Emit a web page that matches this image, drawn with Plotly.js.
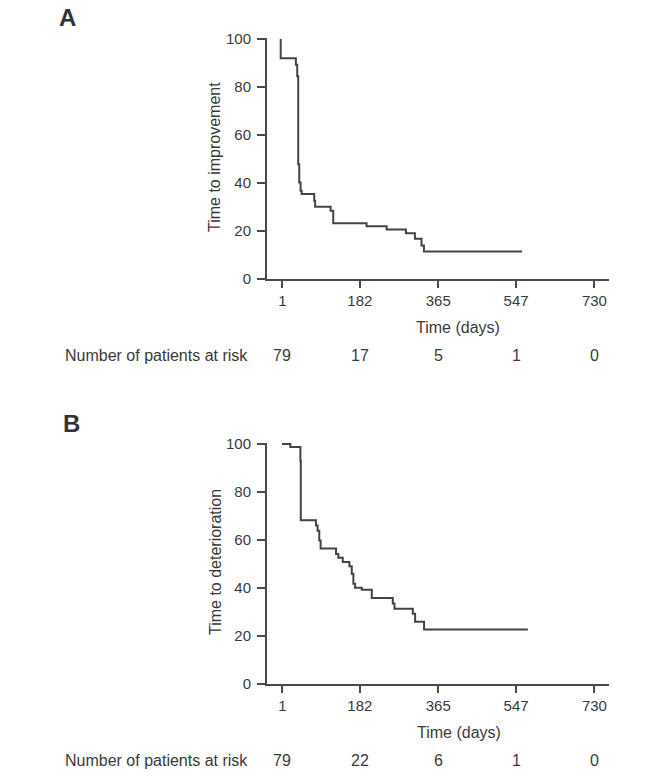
<!DOCTYPE html>
<html>
<head>
<meta charset="utf-8">
<script src="https://cdn.plot.ly/plotly-3.0.1.min.js"></script>
<style>html,body{margin:0;padding:0;background:#fff;}#chart{width:669px;height:777px;}</style>
</head>
<body>
<div id="chart"></div>
<script>
// ---- data ----
const tickDays = [1, 182, 365, 547, 730];
const tickLabels = ["1", "182", "365", "547", "730"];

// Panel A: time to improvement (Kaplan-Meier steps)
const daysA = [-3, -3, 32.5, 35.6, 37.9, 40.3, 43.5, 45.9, 75.3, 77.5, 113.6, 119.7, 197.7, 244.5, 289.5, 310.6, 326, 331.6, 561];
const survA = [100, 92, 89.2, 84.4, 47.7, 40.1, 36.6, 35.3, 32.5, 30, 28.3, 23.1, 21.8, 20.5, 18.9, 16.6, 13.8, 11.3, 11.3];
const riskA = [79, 17, 5, 1, 0];

// Panel B: time to deterioration
const daysB = [0, 19.4, 43, 44, 79.3, 83.2, 87.1, 90.3, 126.3, 131.7, 142, 157.5, 163, 166.8, 170.8, 186.4, 209.8, 258.9, 262.8, 305.7, 311, 332, 574.5];
const survB = [100, 98.8, 93, 68.2, 66, 63.9, 59.8, 56.5, 54.2, 52.6, 50.8, 49.1, 45.9, 41.8, 40.1, 39.3, 35.8, 33.5, 31.4, 29.3, 25.9, 22.7, 22.7];
const riskB = [79, 22, 6, 1, 0];

const titleA = "Time to improvement";
const titleB = "Time to deterioration";
const xTitle = "Time (days)";
const riskLabel = "Number of patients at risk";

// ---- layout helpers (pixel -> paper) ----
const W = 669, H = 777;
const px = v => v / W;
const py = v => 1 - v / H;

const FONT = "Liberation Sans, Arial, sans-serif";
const TXT = "#3a3a3a";
const AX = "#4a4a4a";
const LINE = "#444444";

function xAxis(anchor) {
  return {
    domain: [px(267), px(609)],
    range: [-35, 764],
    anchor: anchor,
    showline: true, linewidth: 2, linecolor: AX,
    ticks: "outside", ticklen: 7, tickwidth: 2, tickcolor: AX,
    tickvals: tickDays, ticktext: tickLabels,
    tickfont: {family: FONT, size: 15, color: TXT},
    showgrid: false, zeroline: false, fixedrange: true
  };
}
function yAxis(anchor, top, bottom) {
  return {
    domain: [py(bottom), py(top)],
    range: [0, 100 * (bottom - top) / (bottom - top - 1)],
    anchor: anchor,
    showline: true, linewidth: 2, linecolor: AX,
    ticks: "outside", ticklen: 8, tickwidth: 2, tickcolor: AX,
    tickvals: [0, 20, 40, 60, 80, 100],
    tickfont: {family: FONT, size: 15, color: TXT},
    ticklabelstandoff: 3,
    showgrid: false, zeroline: false, fixedrange: true
  };
}

const traces = [
  {x: daysA, y: survA, xaxis: "x", yaxis: "y", type: "scatter", mode: "lines",
   line: {shape: "hv", color: LINE, width: 2}, hoverinfo: "skip"},
  {x: daysB, y: survB, xaxis: "x2", yaxis: "y2", type: "scatter", mode: "lines",
   line: {shape: "hv", color: LINE, width: 2}, hoverinfo: "skip"}
];

const annotations = [
  {text: "<b>A</b>", x: px(57), y: py(18)},
  {text: "<b>B</b>", x: px(61), y: py(424)}
].map(a => Object.assign(a, {xref: "paper", yref: "paper", showarrow: false,
  xanchor: "left", yanchor: "middle",
  font: {family: FONT, size: 24, color: "#333"}}));

function addText(text, x, y, opts) {
  annotations.push(Object.assign({text: text, x: x, y: y, xref: "paper", yref: "paper",
    xanchor: "center", yanchor: "middle",
    showarrow: false, font: {family: FONT, size: 16, color: TXT}}, opts || {}));
}
addText(titleA, px(215), py(157), {textangle: -90});
addText(titleB, px(215), py(562), {textangle: -90});
addText(xTitle, px(458), py(327));
addText(xTitle, px(459), py(732));
addText(riskLabel, px(63), py(355), {xanchor: "left"});
addText(riskLabel, px(63), py(760), {xanchor: "left"});

riskA.forEach((n, i) => annotations.push({text: String(n), x: tickDays[i], y: py(355),
  xref: "x", yref: "paper", xanchor: "center", yanchor: "middle", showarrow: false,
  font: {family: FONT, size: 16, color: TXT}}));
riskB.forEach((n, i) => annotations.push({text: String(n), x: tickDays[i], y: py(760),
  xref: "x2", yref: "paper", xanchor: "center", yanchor: "middle", showarrow: false,
  font: {family: FONT, size: 16, color: TXT}}));

const layout = {
  width: W, height: H,
  margin: {l: 0, r: 0, t: 0, b: 0, pad: 0},
  paper_bgcolor: "#fff", plot_bgcolor: "#fff",
  showlegend: false,
  xaxis: xAxis("y"),
  yaxis: yAxis("x", 38, 278.5),
  xaxis2: xAxis("y2"),
  yaxis2: yAxis("x2", 443, 684),
  annotations: annotations
};

Plotly.newPlot("chart", traces, layout, {displayModeBar: false, staticPlot: true});
</script>
</body>
</html>
